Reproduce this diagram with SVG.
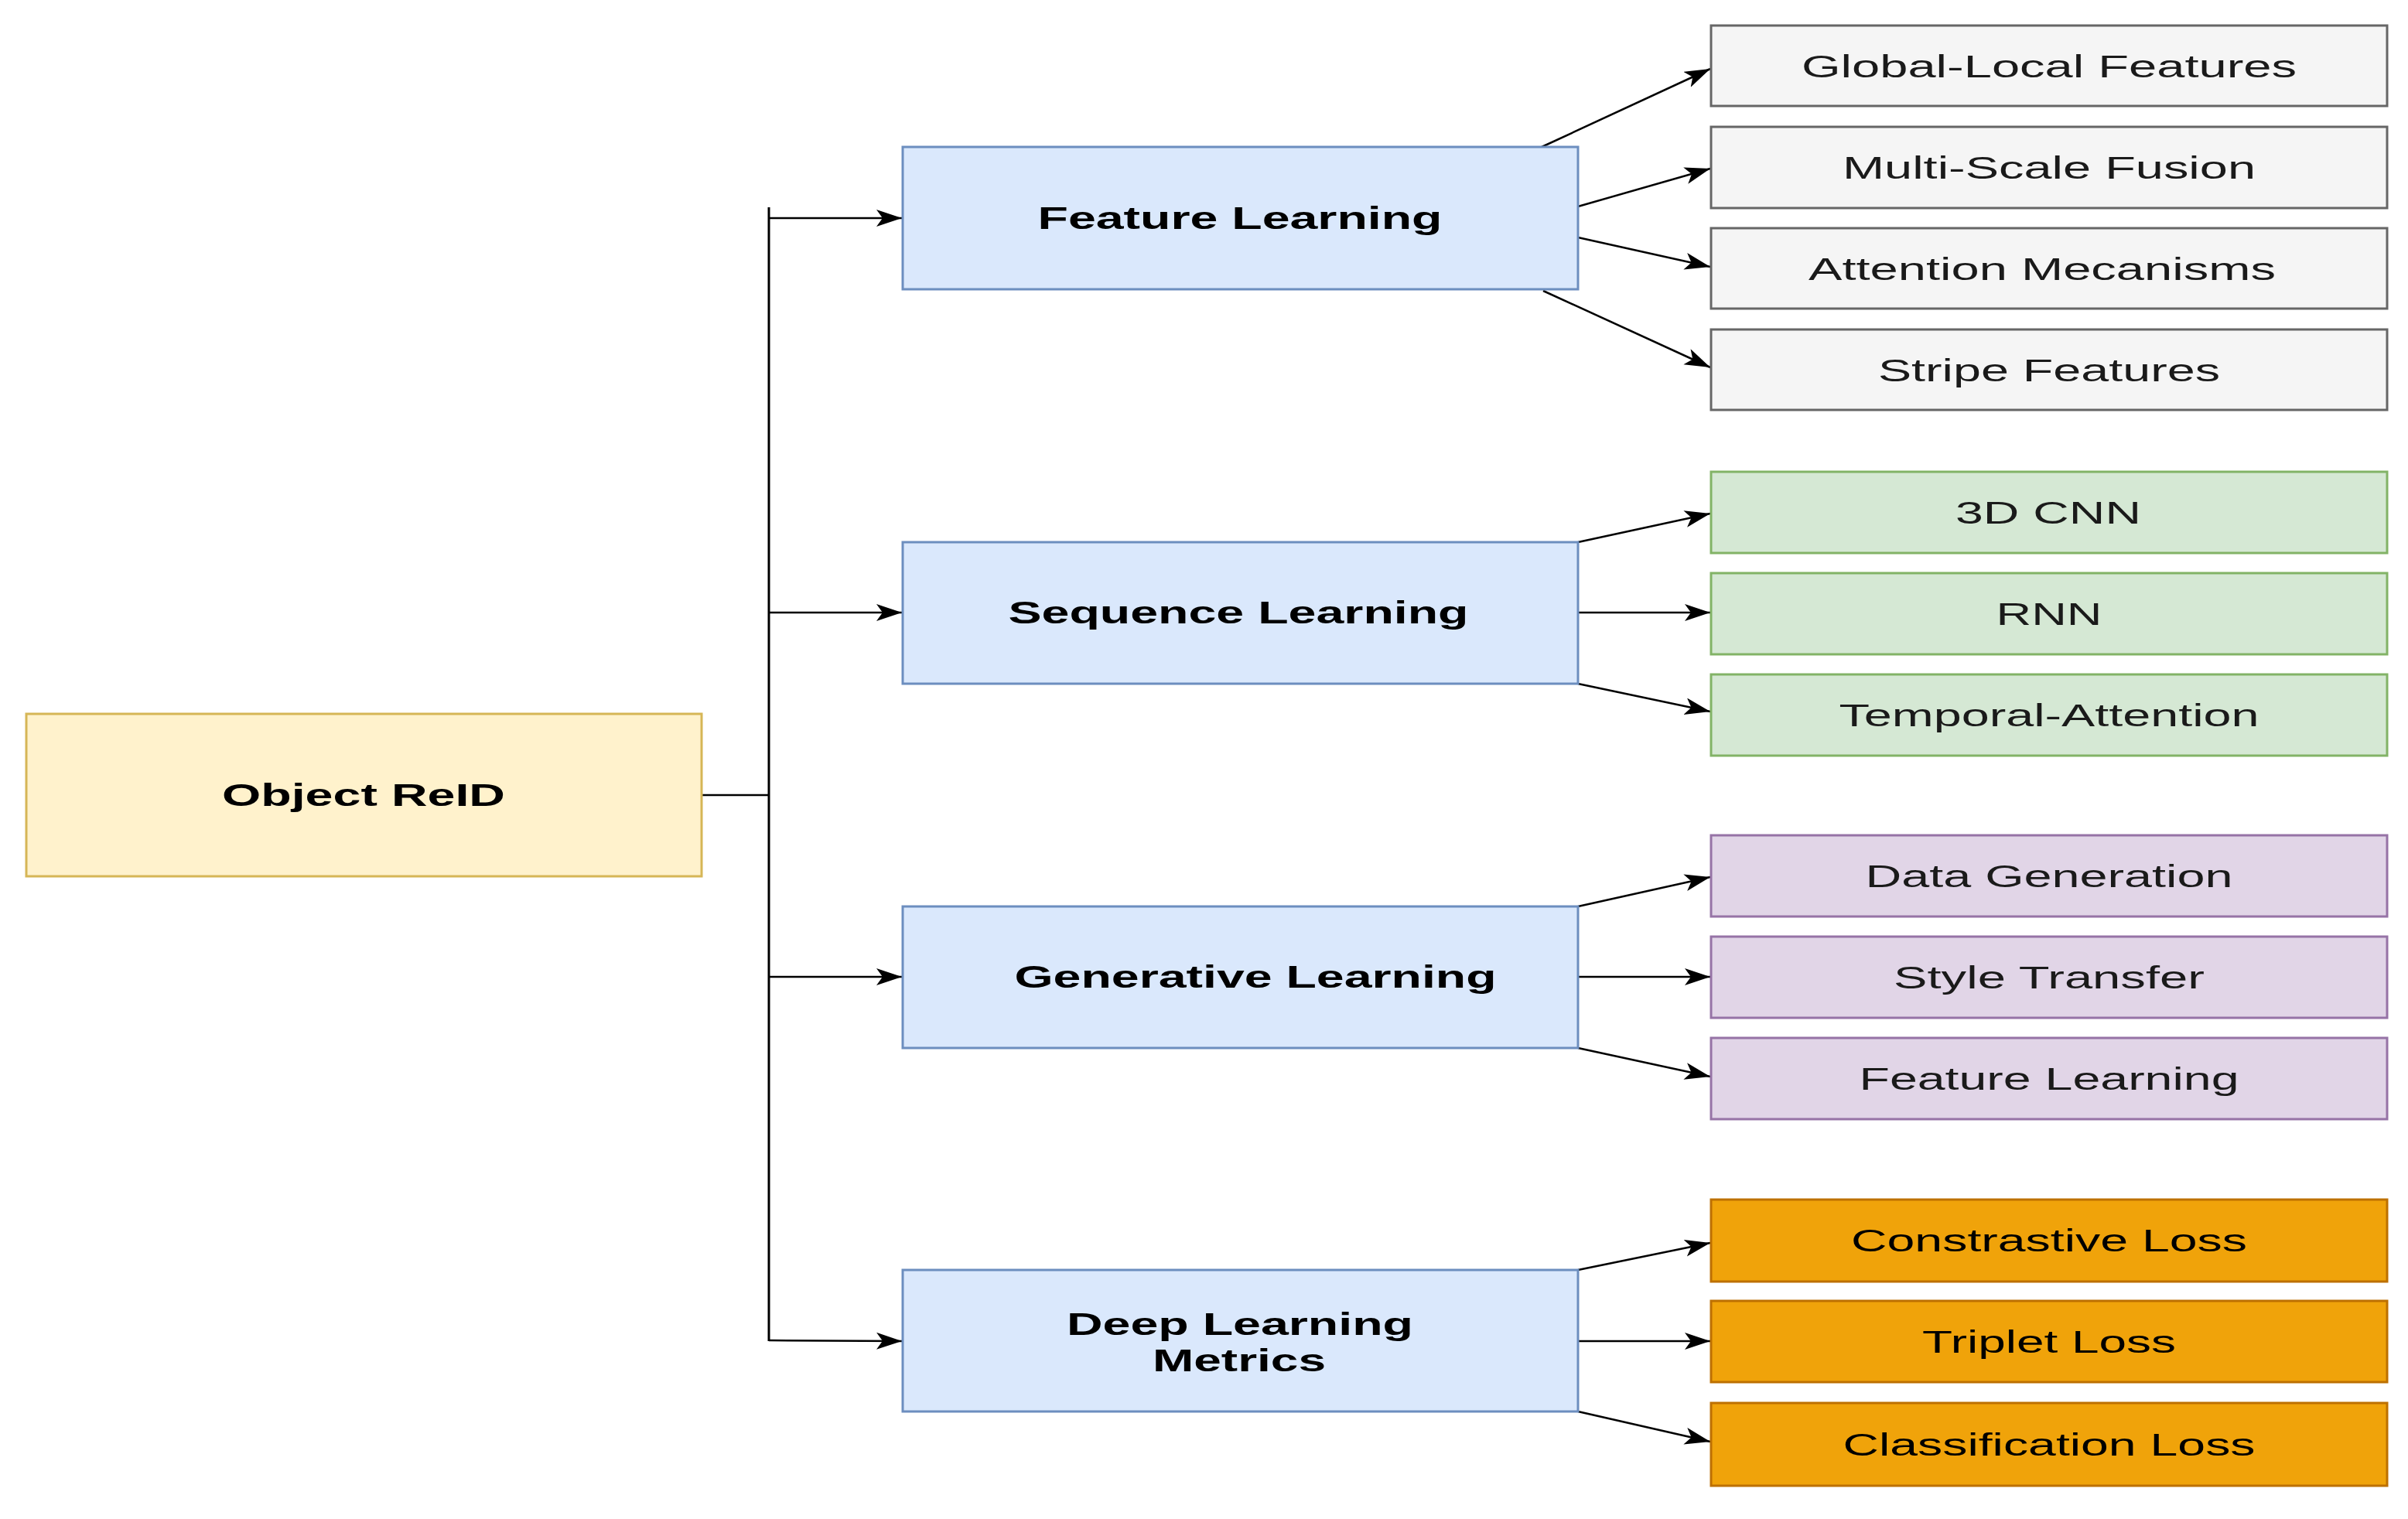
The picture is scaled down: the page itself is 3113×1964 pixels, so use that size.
<svg xmlns="http://www.w3.org/2000/svg" width="3113" height="1964" viewBox="0 0 3113 1964">
<style>
.t{font-family:"Liberation Sans",Arial,Helvetica,sans-serif;font-size:41px;text-anchor:middle;fill:#1a1a1a}
.b{font-family:"Liberation Sans",Arial,Helvetica,sans-serif;font-size:40px;font-weight:bold;text-anchor:middle;fill:#000}
.root rect{fill:#fff2cc;stroke:#d6b656;stroke-width:3}
.mid rect{fill:#dae8fc;stroke:#6c8ebf;stroke-width:3}
.grey rect{fill:#f5f5f5;stroke:#666666;stroke-width:3}
.green rect{fill:#d5e8d4;stroke:#82b366;stroke-width:3}
.purple rect{fill:#e1d5e7;stroke:#9673a6;stroke-width:3}
.orange rect{fill:#f0a30a;stroke:#bd7000;stroke-width:3}
.orange text{fill:#000}
#connectors line,#connectors path{stroke:#000;stroke-width:2.5;fill:none}
#connectors .arr{marker-end:url(#ah)}
</style>
<defs>
<marker id="ah" markerUnits="userSpaceOnUse" markerWidth="36" markerHeight="24" refX="33" refY="11" orient="auto">
<path d="M0,0 L33,11 L0,22 L8,11 Z" fill="#000"/>
</marker>
</defs>
<rect width="3113" height="1964" fill="#ffffff"/>

<g id="connectors">
<line x1="907" y1="1028" x2="994" y2="1028"/>
<line x1="994" y1="268" x2="994" y2="1734" style="stroke-width:3"/>
<line class="arr" x1="994" y1="282" x2="1166" y2="282"/>
<line class="arr" x1="994" y1="792" x2="1166" y2="792"/>
<line class="arr" x1="994" y1="1263" x2="1166" y2="1263"/>
<line class="arr" x1="994" y1="1733" x2="1166" y2="1734"/>

<line class="arr" x1="1993" y1="190" x2="2211" y2="89"/>
<line class="arr" x1="2040" y1="267" x2="2211" y2="218"/>
<line class="arr" x1="2040" y1="307" x2="2211" y2="345"/>
<line class="arr" x1="1995" y1="376" x2="2211" y2="475"/>

<line class="arr" x1="2040" y1="701" x2="2211" y2="664"/>
<line class="arr" x1="2040" y1="792" x2="2211" y2="792"/>
<line class="arr" x1="2040" y1="884" x2="2211" y2="920"/>

<line class="arr" x1="2040" y1="1172" x2="2211" y2="1134"/>
<line class="arr" x1="2040" y1="1263" x2="2211" y2="1263"/>
<line class="arr" x1="2040" y1="1355" x2="2211" y2="1392"/>

<line class="arr" x1="2040" y1="1642" x2="2211" y2="1607"/>
<line class="arr" x1="2040" y1="1734" x2="2211" y2="1734"/>
<line class="arr" x1="2040" y1="1825" x2="2211" y2="1864"/>
</g>

<g id="object-reid" class="root">
<rect x="34" y="923" width="873" height="210"/>
<text class="b" x="470" y="1042" textLength="366" lengthAdjust="spacingAndGlyphs">Object ReID</text>
</g>

<g id="feature-learning" class="mid">
<rect x="1167" y="190" width="873" height="184"/>
<text class="b" x="1603" y="296" textLength="523" lengthAdjust="spacingAndGlyphs">Feature Learning</text>
</g>
<g id="sequence-learning" class="mid">
<rect x="1167" y="701" width="873" height="183"/>
<text class="b" x="1601" y="806" textLength="595" lengthAdjust="spacingAndGlyphs">Sequence Learning</text>
</g>
<g id="generative-learning" class="mid">
<rect x="1167" y="1172" width="873" height="183"/>
<text class="b" x="1623" y="1277" textLength="623" lengthAdjust="spacingAndGlyphs">Generative Learning</text>
</g>
<g id="deep-learning-metrics" class="mid">
<rect x="1167" y="1642" width="873" height="183"/>
<text class="b" x="1603" y="1726" textLength="448" lengthAdjust="spacingAndGlyphs">Deep Learning</text>
<text class="b" x="1602" y="1773" textLength="224" lengthAdjust="spacingAndGlyphs">Metrics</text>
</g>

<g id="global-local-features" class="grey">
<rect x="2212" y="33" width="874" height="104"/>
<text class="t" x="2649" y="100" textLength="640" lengthAdjust="spacingAndGlyphs">Global-Local Features</text>
</g>
<g id="multi-scale-fusion" class="grey">
<rect x="2212" y="164" width="874" height="105"/>
<text class="t" x="2649" y="231" textLength="534" lengthAdjust="spacingAndGlyphs">Multi-Scale Fusion</text>
</g>
<g id="attention-mecanisms" class="grey">
<rect x="2212" y="295" width="874" height="104"/>
<text class="t" x="2640" y="362" textLength="604" lengthAdjust="spacingAndGlyphs">Attention Mecanisms</text>
</g>
<g id="stripe-features" class="grey">
<rect x="2212" y="426" width="874" height="104"/>
<text class="t" x="2649" y="493" textLength="442" lengthAdjust="spacingAndGlyphs">Stripe Features</text>
</g>

<g id="3d-cnn" class="green">
<rect x="2212" y="610" width="874" height="105"/>
<text class="t" x="2648" y="677" textLength="240" lengthAdjust="spacingAndGlyphs">3D CNN</text>
</g>
<g id="rnn" class="green">
<rect x="2212" y="741" width="874" height="105"/>
<text class="t" x="2649" y="808" textLength="137" lengthAdjust="spacingAndGlyphs">RNN</text>
</g>
<g id="temporal-attention" class="green">
<rect x="2212" y="872" width="874" height="105"/>
<text class="t" x="2649" y="939" textLength="543" lengthAdjust="spacingAndGlyphs">Temporal-Attention</text>
</g>

<g id="data-generation" class="purple">
<rect x="2212" y="1080" width="874" height="105"/>
<text class="t" x="2649" y="1147" textLength="475" lengthAdjust="spacingAndGlyphs">Data Generation</text>
</g>
<g id="style-transfer" class="purple">
<rect x="2212" y="1211" width="874" height="105"/>
<text class="t" x="2649" y="1278" textLength="402" lengthAdjust="spacingAndGlyphs">Style Transfer</text>
</g>
<g id="feature-learning-gen" class="purple">
<rect x="2212" y="1342" width="874" height="105"/>
<text class="t" x="2649" y="1409" textLength="491" lengthAdjust="spacingAndGlyphs">Feature Learning</text>
</g>

<g id="constrastive-loss" class="orange">
<rect x="2212" y="1551" width="874" height="106"/>
<text class="t" x="2649" y="1618" textLength="512" lengthAdjust="spacingAndGlyphs">Constrastive Loss</text>
</g>
<g id="triplet-loss" class="orange">
<rect x="2212" y="1682" width="874" height="105"/>
<text class="t" x="2649" y="1749" textLength="328" lengthAdjust="spacingAndGlyphs">Triplet Loss</text>
</g>
<g id="classification-loss" class="orange">
<rect x="2212" y="1814" width="874" height="107"/>
<text class="t" x="2649" y="1882" textLength="533" lengthAdjust="spacingAndGlyphs">Classification Loss</text>
</g>
</svg>
